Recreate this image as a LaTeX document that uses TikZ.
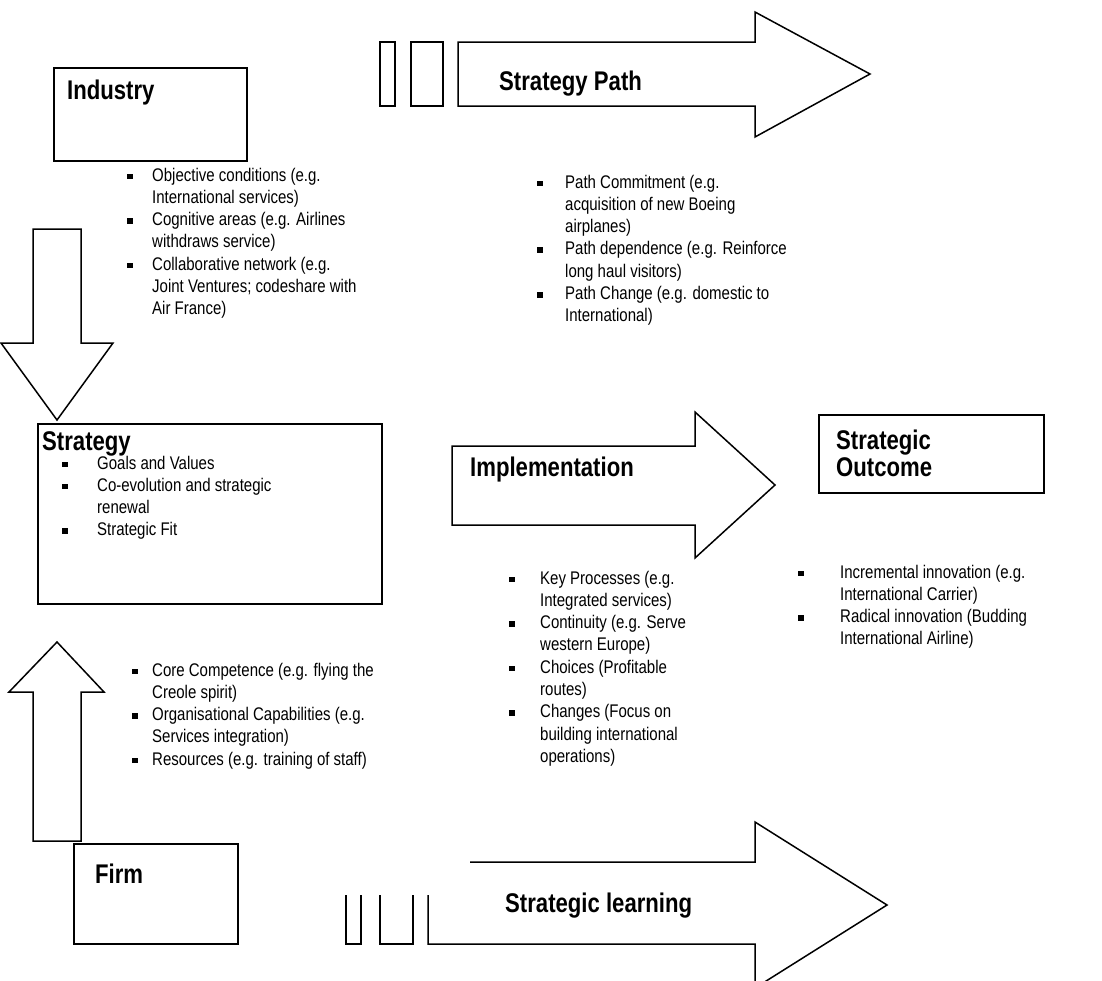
\documentclass[tikz,border=0pt]{standalone}
\usepackage{fontspec}
\setmainfont[FakeStretch=0.82]{Liberation Sans}
\newcommand{\bitem}[2]{\makebox[#1][l]{\rule[2pt]{5.5pt}{5.5pt}}#2}
\newcommand{\bcont}[2]{\hspace*{#1}#2}
\begin{document}
\begin{tikzpicture}[x=1pt,y=-1pt,
  shp/.style={draw, line width=1.5pt, line join=miter, fill=white},
  box/.style={draw, line width=1.5pt, inner sep=0, anchor=north west},
  head/.style={font=\fontsize{27}{27}\selectfont\bfseries, inner sep=0, anchor=base west},
  body/.style={font=\fontsize{18.3}{22.3}\selectfont, inner sep=0, anchor=base west}]
\useasboundingbox (0,0) rectangle (1102,980);
\fill[white] (0,0) rectangle (1102,980);

% top: strategy path arrow
\draw[shp] (380,42) rectangle (395,106);
\draw[shp] (411,42) rectangle (443,106);
\draw[shp] (458,42) -- (755,42) -- (755,12) -- (870,74) -- (755,137) -- (755,106) -- (458,106) -- cycle;
\node[head] (sp) at (499,90) {Strategy Path};

% industry box
\node[box, minimum width=193pt, minimum height=93pt] (industry) at (53,67) {};
\node[head] (indt) at (67,99) {Industry};
\node[body] (indlist) at (127,181) {\parbox[t]{400pt}{%
\bitem{25pt}{Objective conditions (e.g.}\\
\bcont{25pt}{International services)}\\
\bitem{25pt}{Cognitive areas (e.g. Airlines}\\
\bcont{25pt}{withdraws service)}\\
\bitem{25pt}{Collaborative network (e.g.}\\
\bcont{25pt}{Joint Ventures; codeshare with}\\
\bcont{25pt}{Air France)}}};

% path list
\node[body] (pathlist) at (537,188) {\parbox[t]{400pt}{%
\bitem{28pt}{Path Commitment (e.g.}\\
\bcont{28pt}{acquisition of new Boeing}\\
\bcont{28pt}{airplanes)}\\
\bitem{28pt}{Path dependence (e.g. Reinforce}\\
\bcont{28pt}{long haul visitors)}\\
\bitem{28pt}{Path Change (e.g. domestic to}\\
\bcont{28pt}{International)}}};

% down arrow
\draw[shp] (33,229) -- (81,229) -- (81,343) -- (113,343) -- (57,420) -- (1,343) -- (33,343) -- cycle;

% strategy box
\node[box, minimum width=344pt, minimum height=180pt] (strategy) at (37,423) {};
\node[head] (strt) at (42,450) {Strategy};
\node[body] (strlist) at (62,469) {\parbox[t]{400pt}{%
\bitem{35pt}{Goals and Values}\\
\bitem{35pt}{Co-evolution and strategic}\\
\bcont{35pt}{renewal}\\
\bitem{35pt}{Strategic Fit}}};

% implementation arrow
\draw[shp] (452,446) -- (695,446) -- (695,412) -- (775,485) -- (695,558) -- (695,525) -- (452,525) -- cycle;
\node[head] (impt) at (470,476) {Implementation};

% strategic outcome
\node[box, minimum width=225pt, minimum height=78pt] (outcome) at (818,414) {};
\node[head] (outt) at (836,449) {\parbox[t]{200pt}{Strategic\\Outcome}};
\node[body] (outlist) at (798,578) {\parbox[t]{400pt}{%
\bitem{42pt}{Incremental innovation (e.g.}\\
\bcont{42pt}{International Carrier)}\\
\bitem{42pt}{Radical innovation (Budding}\\
\bcont{42pt}{International Airline)}}};

% implementation list
\node[body] (implist) at (509,584) {\parbox[t]{400pt}{%
\bitem{31pt}{Key Processes (e.g.}\\
\bcont{31pt}{Integrated services)}\\
\bitem{31pt}{Continuity (e.g. Serve}\\
\bcont{31pt}{western Europe)}\\
\bitem{31pt}{Choices (Profitable}\\
\bcont{31pt}{routes)}\\
\bitem{31pt}{Changes (Focus on}\\
\bcont{31pt}{building international}\\
\bcont{31pt}{operations)}}};

% up arrow
\draw[shp] (57,642) -- (104,692) -- (81,692) -- (81,841) -- (33,841) -- (33,692) -- (9,692) -- cycle;

% firm list
\node[body] (firmlist) at (132,676) {\parbox[t]{400pt}{%
\bitem{20pt}{Core Competence (e.g. flying the}\\
\bcont{20pt}{Creole spirit)}\\
\bitem{20pt}{Organisational Capabilities (e.g.}\\
\bcont{20pt}{Services integration)}\\
\bitem{20pt}{Resources (e.g. training of staff)}}};

% firm box
\node[box, minimum width=164pt, minimum height=100pt] (firm) at (73,843) {};
\node[head] (firmt) at (95,883) {Firm};

% bottom: strategic learning arrow
\draw[line width=1.5pt] (346,895) -- (346,944) -- (361,944) -- (361,895);
\draw[line width=1.5pt] (380,895) -- (380,944) -- (413,944) -- (413,895);
\draw[line width=1.5pt, line join=miter] (428,895) -- (428,944) -- (755,944) -- (755,988) -- (887,905) -- (755,822) -- (755,862) -- (470,862);
\node[head] (slt) at (505,912) {Strategic learning};
\end{tikzpicture}
\end{document}
